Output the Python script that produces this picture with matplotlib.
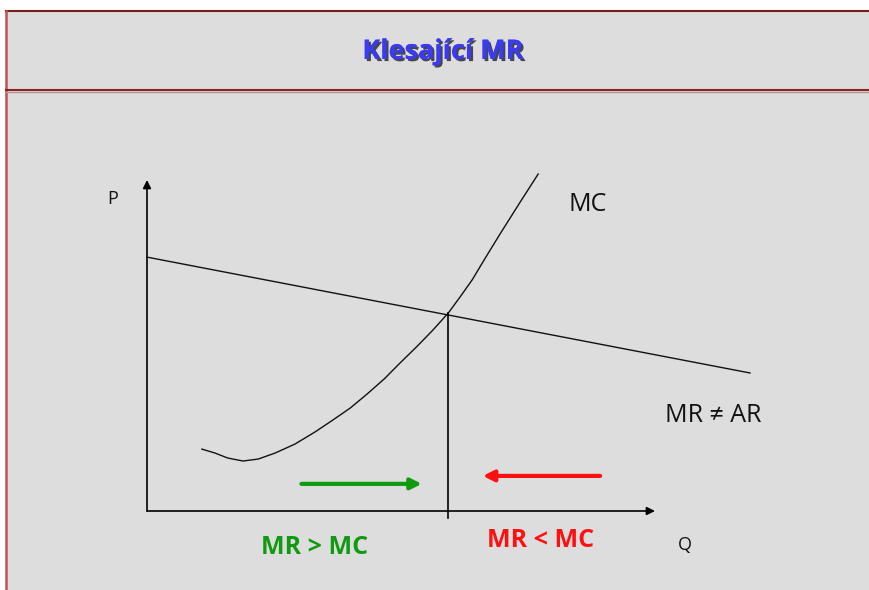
import matplotlib.pyplot as plt
import matplotlib.patheffects as pe
from matplotlib.patches import Rectangle

# data (Q, P units; axes run 0..10)
mr_q = [0.0, 11.87]
mr_p = [7.67, 4.17]
mc_q = [1.08, 1.34, 1.59, 1.89, 2.19, 2.52, 2.91, 3.31, 3.66, 4.00, 4.33,
        4.67, 4.98, 5.32, 5.63, 5.93, 6.16, 6.40, 6.67, 6.95, 7.32, 7.70]
mc_p = [1.87, 1.75, 1.60, 1.51, 1.57, 1.75, 2.02, 2.39, 2.75, 3.11, 3.53,
        3.99, 4.47, 4.98, 5.47, 5.98, 6.46, 6.98, 7.67, 8.37, 9.27, 10.18]
q_star = 5.93
p_star = 5.98
green_arrow_q = [3.04, 5.41]
green_arrow_p = 0.82
red_arrow_q = [8.92, 6.61]
red_arrow_p = 1.06

title = 'Klesající MR'

fig = plt.figure(figsize=(8.69, 5.90), dpi=100, facecolor='white')

# slide background
bg = fig.add_axes([0, 0, 1, 1])
bg.set_xlim(0, 869)
bg.set_ylim(590, 0)
bg.axis('off')
bg.add_patch(Rectangle((6, 11), 870, 590, facecolor='#dddddd', edgecolor='none'))
bg.plot([6, 869], [11, 11], color='#7a1c1c', lw=1.5)
bg.plot([6, 6], [11, 590], color='#c0504d', lw=1.8)
bg.plot([6, 869], [90, 90], color='#8b2323', lw=1.5)
bg.plot([6, 869], [91.5, 91.5], color='#b89090', lw=1.0)
bg.text(443, 52, title, ha='center', va='center', fontsize=19.5, fontweight='bold',
        family=['Open Sans', 'DejaVu Sans'], color='#3a3af0',
        path_effects=[pe.withSimplePatchShadow(offset=(1.5, -1.5), shadow_rgbFace='#222222', alpha=0.8),
                      pe.Normal()])

# diagram
ax = fig.add_axes([147 / 869, 79 / 590, 508 / 869, 331 / 590])
ax.set_xlim(0, 10)
ax.set_ylim(0, 10)
ax.axis('off')
ax.patch.set_alpha(0)

ax.annotate('', xy=(10, 0), xytext=(0, 0), annotation_clip=False,
            arrowprops=dict(arrowstyle='-|>', color='black', lw=1.2, mutation_scale=12, shrinkA=0, shrinkB=0))
ax.annotate('', xy=(0, 10), xytext=(0, 0), annotation_clip=False,
            arrowprops=dict(arrowstyle='-|>', color='black', lw=1.2, mutation_scale=12, shrinkA=0, shrinkB=0))

ax.plot(mr_q, mr_p, color='#111111', lw=1.0, clip_on=False)
ax.plot(mc_q, mc_p, color='#111111', lw=1.0, clip_on=False, solid_joinstyle='round')
ax.plot([q_star, q_star], [p_star, -0.21], color='black', lw=1.2, clip_on=False)

ax.annotate('', xy=(green_arrow_q[1], green_arrow_p), xytext=(green_arrow_q[0], green_arrow_p),
            annotation_clip=False,
            arrowprops=dict(arrowstyle='-|>', color='#109a10', lw=3, mutation_scale=16, shrinkA=0, shrinkB=0))
ax.annotate('', xy=(red_arrow_q[1], red_arrow_p), xytext=(red_arrow_q[0], red_arrow_p),
            annotation_clip=False,
            arrowprops=dict(arrowstyle='-|>', color='#ff1010', lw=3, mutation_scale=16, shrinkA=0, shrinkB=0))

lbl = dict(family=['Open Sans', 'DejaVu Sans'], clip_on=False)
ax.text(-0.67, 9.43, 'P', ha='center', va='center', fontsize=13, color='#111111', **lbl)
ax.text(10.59, -1.03, 'Q', ha='center', va='center', fontsize=13, color='#111111', **lbl)
ax.text(8.68, 9.27, 'MC', ha='center', va='center', fontsize=18, color='#111111', **lbl)
ax.text(11.14, 2.90, 'MR \u2260 AR', ha='center', va='center', fontsize=18, color='#111111', **lbl)
ax.text(3.29, -1.09, 'MR > MC', ha='center', va='center', fontsize=18, fontweight='bold',
        color='#109a10', **lbl)
ax.text(7.74, -0.88, 'MR < MC', ha='center', va='center', fontsize=18, fontweight='bold',
        color='#ff1010', **lbl)

fig.savefig('out.png', dpi=100, facecolor='white')
